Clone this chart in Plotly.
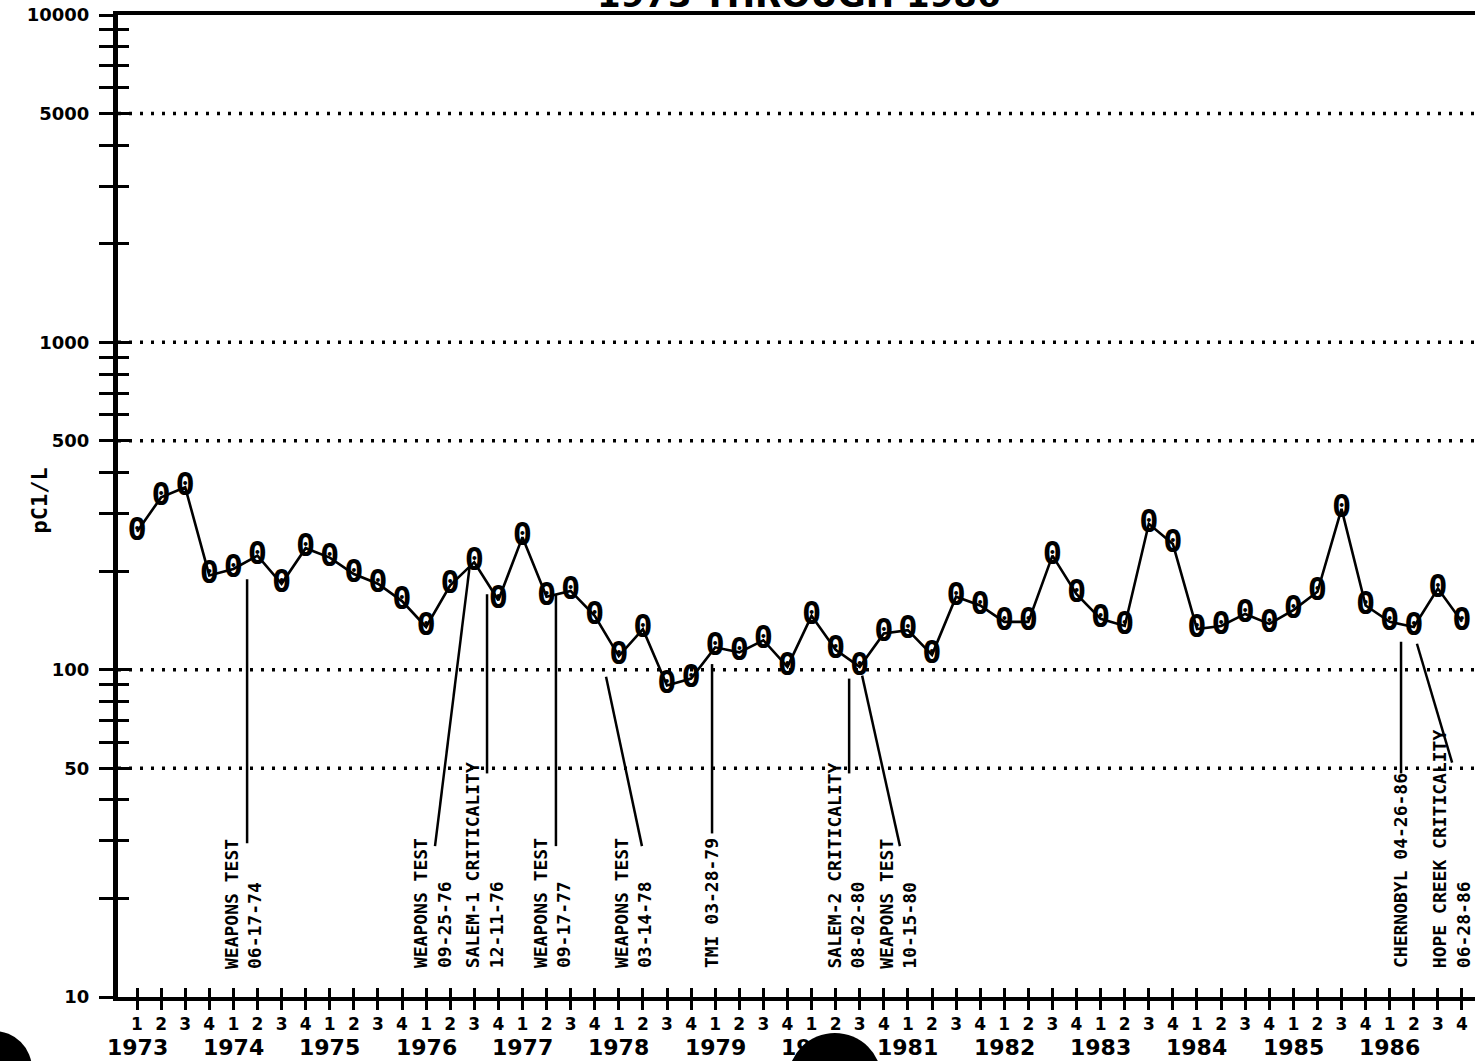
import plotly.graph_objects as go

# ---------------- data ----------------
YEARS = list(range(1973, 1987))
QUARTERS = ["1", "2", "3", "4"]
VALUES = [
    264, 336, 361, 194,   # 1973
    203, 223, 183, 235,   # 1974
    220, 196, 183, 162,   # 1975
    135, 181, 213, 163,   # 1976
    254, 167, 174, 146,   # 1977
    110, 133, 89.5, 93.9, # 1978
    117, 113, 123, 102,   # 1979
    146, 115, 102, 129,   # 1980
    132, 111, 167, 157,   # 1981
    140, 140, 223, 170,   # 1982
    143, 136, 279, 242,   # 1983
    133, 136, 148, 138,   # 1984
    152, 173, 310, 157,   # 1985
    140, 135, 177, 140,   # 1986
]
Y_LABELED = [10, 50, 100, 500, 1000, 5000, 10000]
Y_MINOR = [20, 30, 40, 60, 70, 80, 90, 200, 300, 400, 600, 700, 800, 900,
           2000, 3000, 4000, 6000, 7000, 8000, 9000]
GRID = [50, 100, 500, 1000, 5000]

EV_TEXT = [
    "WEAPONS TEST<br>06-17-74",
    "WEAPONS TEST<br>09-25-76",
    "SALEM-1 CRITICALITY<br>12-11-76",
    "WEAPONS TEST<br>09-17-77",
    "WEAPONS TEST<br>03-14-78",
    "TMI 03-28-79",
    "SALEM-2 CRITICALITY<br>08-02-80",
    "WEAPONS TEST<br>10-15-80",
    "CHERNOBYL 04-26-86",
    "HOPE CREEK CRITICALITY<br>06-28-86",
]
EV_LABEL_X = [4.42, 12.27, 14.43, 17.25, 20.61, 23.85, 29.43, 31.6, 52.47, 54.55]
EV_TOP_X = [4.57, 13.82, 14.53, 17.39, 19.47, 23.87, 29.56, 30.1, 52.47, 53.13]
EV_TOP_V = [189, 210, 170, 170, 95.2, 104, 93.9, 95.9, 121.7, 120]
EV_BOT_X = [4.57, 12.37, 14.53, 17.39, 20.96, 23.87, 29.56, 31.67, 52.47, 54.59]
EV_BOT_V = [29.5, 28.9, 48.2, 28.9, 28.9, 31.6, 48.2, 28.9, 48.2, 52]

TITLE = "1973 THROUGH 1986"
Y_TITLE = "pC1/L"

# ---------------- build ----------------
pos = list(range(len(VALUES)))
qlabels = [q for _ in YEARS for q in QUARTERS]
ytickvals = sorted(Y_LABELED + Y_MINOR)
yticktext = [str(v) if v in Y_LABELED else "" for v in ytickvals]

XR = [-0.789, 55.54]
YR = [1, 4]
MONO = "DejaVu Sans Mono"
SANS = "DejaVu Sans"

fig = go.Figure()

# connector lines for events
cx, cy = [], []
for tx, tv, bx, bv in zip(EV_TOP_X, EV_TOP_V, EV_BOT_X, EV_BOT_V):
    cx += [tx, bx, None]
    cy += [tv, bv, None]
fig.add_trace(go.Scatter(x=cx, y=cy, mode="lines",
                         line=dict(color="black", width=2.5),
                         hoverinfo="skip", showlegend=False))

# series line
fig.add_trace(go.Scatter(x=pos, y=VALUES, mode="lines",
                         line=dict(color="black", width=2.6),
                         hoverinfo="skip", showlegend=False))
# plotter-style "0" markers
fig.add_trace(go.Scatter(x=pos, y=VALUES, mode="text",
                         text=["0"] * len(VALUES), textposition="middle center",
                         textfont=dict(family=MONO, size=32, color="black", weight="bold"),
                         hoverinfo="skip", showlegend=False))
# invisible trace for the overlay axes (inside tick marks)
fig.add_trace(go.Scatter(x=pos, y=VALUES, mode="markers", marker=dict(opacity=0),
                         xaxis="x2", yaxis="y2", hoverinfo="skip", showlegend=False))

annotations = []
for txt, lx in zip(EV_TEXT, EV_LABEL_X):
    annotations.append(dict(
        x=lx, xref="x", y=0.027, yref="paper", text=txt, showarrow=False,
        textangle=-90, xanchor="center", yanchor="bottom", align="left",
        font=dict(family=MONO, size=18, color="black", weight="bold"),
    ))
for k, yr in enumerate(YEARS):
    annotations.append(dict(
        x=pos[4 * k], xref="x", y=-0.051, yref="paper", text=str(yr),
        showarrow=False, xanchor="center", yanchor="middle",
        font=dict(family=SANS, size=22, color="black", weight="bold"),
    ))
annotations.append(dict(
    x=-0.058, xref="paper", y=0.506, yref="paper", text=Y_TITLE, showarrow=False,
    textangle=-90, xanchor="center", yanchor="middle",
    font=dict(family=MONO, size=22, color="black", weight="bold"),
))
annotations.append(dict(
    x=0.502, xref="paper", y=0.998, yref="paper", text=TITLE, showarrow=False,
    xanchor="center", yanchor="bottom",
    font=dict(family=SANS, size=34, color="black", weight="bold"),
))

shapes = []
for g in GRID:
    shapes.append(dict(type="line", xref="paper", x0=0, x1=1, yref="y", y0=g, y1=g,
                       line=dict(color="black", width=3.5, dash="3px,8px"),
                       layer="below"))
# scanner hole-punch blobs
shapes.append(dict(type="circle", xref="paper", yref="paper",
                   x0=-0.1195, x1=-0.0634, y0=-0.0346, y1=-0.1120,
                   fillcolor="black", line=dict(width=0), layer="above"))
shapes.append(dict(type="circle", xref="paper", yref="paper",
                   x0=0.4937, x1=0.5629, y0=-0.0367, y1=-0.1324,
                   fillcolor="black", line=dict(width=0), layer="above"))

fig.update_layout(
    width=1475, height=1061, autosize=False,
    paper_bgcolor="white", plot_bgcolor="white",
    margin=dict(l=118, r=0, t=15, b=64, pad=0),
    showlegend=False,
    xaxis=dict(range=XR, tickmode="array", tickvals=pos, ticktext=qlabels,
               ticks="outside", ticklen=9, tickwidth=2.5, tickcolor="black",
               showline=True, linewidth=3.5, linecolor="black", mirror=True,
               showgrid=False, zeroline=False, ticklabelstandoff=0,
               tickfont=dict(family=SANS, size=17, color="black", weight="bold")),
    yaxis=dict(type="log", range=YR, tickmode="array", tickvals=ytickvals,
               ticktext=yticktext, ticks="outside", ticklen=14, tickwidth=3,
               tickcolor="black", showline=True, linewidth=5, linecolor="black",
               showgrid=False, zeroline=False, ticklabelstandoff=6,
               tickfont=dict(family=SANS, size=18, color="black", weight="bold")),
    xaxis2=dict(range=XR, overlaying="x", anchor="y2", side="bottom",
                tickmode="array", tickvals=pos, ticks="inside", ticklen=9,
                tickwidth=2.5, tickcolor="black", showticklabels=False,
                showline=False, showgrid=False, zeroline=False),
    yaxis2=dict(type="log", range=YR, overlaying="y", anchor="x2", side="left",
                tickmode="array", tickvals=ytickvals, ticks="inside", ticklen=11,
                tickwidth=3, tickcolor="black", showticklabels=False,
                showline=False, showgrid=False, zeroline=False),
    annotations=annotations,
    shapes=shapes,
)

fig.write_html("out.html", config={"displayModeBar": False},
               post_script="document.body.style.margin='0';document.body.style.overflow='hidden';")
